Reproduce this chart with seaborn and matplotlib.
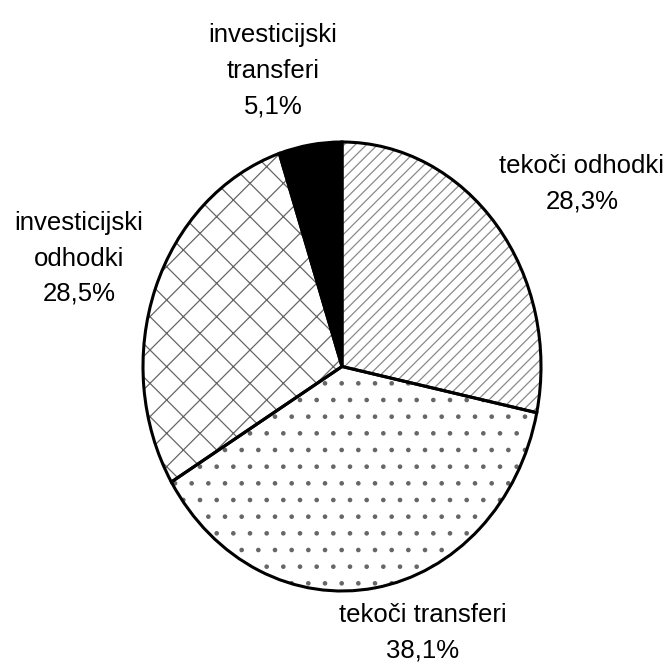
import numpy as np
import matplotlib
matplotlib.use("Agg")
import matplotlib.pyplot as plt
import seaborn as sns

# data (clockwise from 12 o'clock)
categories = ["tekoči odhodki", "tekoči transferi", "investicijski\nodhodki", "investicijski\ntransferi"]
shares = [28.3, 38.1, 28.5, 5.1]
pct_labels = ["28,3%", "38,1%", "28,5%", "5,1%"]

# style per slice
fills = ["white", "white", "white", "black"]
hatches = ["///", ".", "x", None]
hatch_cols = ["#8a8a8a", "#666666", "#666666", "black"]
label_pos = [(1.205, 0.815), (0.407, -1.185), (-1.322, 0.481), (-0.347, 1.318)]

sns.set_style("white")
plt.rcParams['font.family'] = ['Liberation Sans', 'DejaVu Sans']
plt.rcParams['hatch.linewidth'] = 0.9

fig = plt.figure(figsize=(6.72, 6.70), dpi=100)
ax = fig.add_axes([143 / 672, 79 / 670, 398 / 672, 449 / 670])

# hatched fills
wedges, _ = ax.pie(shares, startangle=90, counterclock=False, colors=fills,
                   wedgeprops=dict(linewidth=0))
for w, h, hc in zip(wedges, hatches, hatch_cols):
    w.set_edgecolor(hc)
    if h:
        w.set_hatch(h)

# black outlines on top
outline, _ = ax.pie(shares, startangle=90, counterclock=False,
                    wedgeprops=dict(facecolor="none", edgecolor="black", linewidth=2.2))

ax.set_aspect("auto")
ax.set_xlim(-1, 1)
ax.set_ylim(-1, 1)
ax.axis("off")

for cat, pct, (x, y) in zip(categories, pct_labels, label_pos):
    ax.text(x, y, cat + "\n" + pct, ha="center", va="center", fontsize=18.5,
            linespacing=1.6, color="black", clip_on=False)

fig.savefig("out.png", dpi=100)
